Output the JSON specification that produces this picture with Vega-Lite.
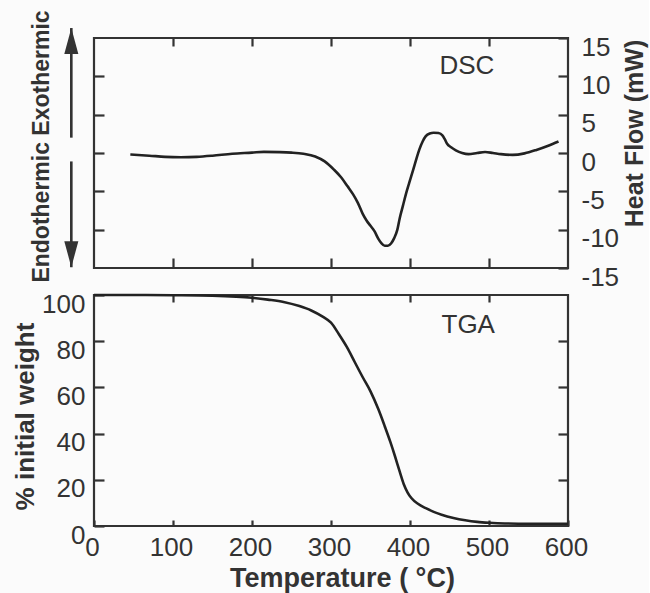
{
  "$schema": "https://vega.github.io/schema/vega-lite/v6.json",
  "background": "#fbfbfb",
  "padding": {"left": 10, "top": 8, "right": 0, "bottom": 0},
  "config": {
    "view": {"stroke": "#333333", "strokeWidth": 2.2},
    "font": "Liberation Sans",
    "axis": {
      "grid": false,
      "domain": false,
      "tickColor": "#333333",
      "tickWidth": 2.2,
      "labelFont": "Liberation Sans",
      "labelFontSize": 26,
      "labelColor": "#333333",
      "titleFont": "Liberation Sans",
      "titleFontSize": 26,
      "titleFontWeight": "bold",
      "titleColor": "#333333",
      "labelFlush": false,
      "labelOverlap": false
    }
  },
  "datasets": {
    "dsc": [
      {"t": 46, "hf": -0.2}, {"t": 70, "hf": -0.35}, {"t": 90, "hf": -0.5}, {"t": 110, "hf": -0.55},
      {"t": 130, "hf": -0.5}, {"t": 150, "hf": -0.35}, {"t": 175, "hf": -0.1}, {"t": 200, "hf": 0.05},
      {"t": 215, "hf": 0.15}, {"t": 235, "hf": 0.12}, {"t": 250, "hf": 0.05}, {"t": 265, "hf": -0.1},
      {"t": 280, "hf": -0.45}, {"t": 292, "hf": -1.1}, {"t": 304, "hf": -2.2}, {"t": 313, "hf": -3.2},
      {"t": 321, "hf": -4.35}, {"t": 328, "hf": -5.4}, {"t": 334, "hf": -6.5}, {"t": 340, "hf": -7.9},
      {"t": 345, "hf": -8.8}, {"t": 350, "hf": -9.5}, {"t": 355, "hf": -10.2}, {"t": 360, "hf": -11.2},
      {"t": 364, "hf": -11.8}, {"t": 368, "hf": -12.1}, {"t": 372, "hf": -12.1}, {"t": 376, "hf": -11.8},
      {"t": 380, "hf": -11.1}, {"t": 384, "hf": -10.0}, {"t": 387, "hf": -8.5}, {"t": 391, "hf": -6.9},
      {"t": 395, "hf": -5.3}, {"t": 399, "hf": -3.9}, {"t": 404, "hf": -2.2}, {"t": 408, "hf": -0.8},
      {"t": 412, "hf": 0.5}, {"t": 416, "hf": 1.5}, {"t": 420, "hf": 2.2}, {"t": 425, "hf": 2.55},
      {"t": 430, "hf": 2.65}, {"t": 436, "hf": 2.6}, {"t": 441, "hf": 2.3}, {"t": 444, "hf": 1.8},
      {"t": 447, "hf": 1.2}, {"t": 452, "hf": 0.75}, {"t": 458, "hf": 0.35}, {"t": 466, "hf": 0.0},
      {"t": 474, "hf": -0.15}, {"t": 485, "hf": 0.0}, {"t": 495, "hf": 0.13}, {"t": 505, "hf": 0.0},
      {"t": 515, "hf": -0.15}, {"t": 530, "hf": -0.25}, {"t": 545, "hf": -0.05}, {"t": 560, "hf": 0.4},
      {"t": 575, "hf": 0.95}, {"t": 588, "hf": 1.5}
    ],
    "tga": [
      {"t": 0, "w": 100}, {"t": 50, "w": 100}, {"t": 100, "w": 99.9}, {"t": 150, "w": 99.7},
      {"t": 180, "w": 99.3}, {"t": 200, "w": 98.8}, {"t": 220, "w": 98.0}, {"t": 240, "w": 97.0},
      {"t": 260, "w": 95.2}, {"t": 275, "w": 93.3}, {"t": 290, "w": 90.5}, {"t": 300, "w": 88.0},
      {"t": 310, "w": 83.0}, {"t": 320, "w": 77.5}, {"t": 330, "w": 71.0}, {"t": 340, "w": 64.5},
      {"t": 350, "w": 58.3}, {"t": 360, "w": 50.5}, {"t": 368, "w": 43.2}, {"t": 375, "w": 36.5},
      {"t": 381, "w": 30.2}, {"t": 387, "w": 23.5}, {"t": 392, "w": 18.2}, {"t": 397, "w": 14.5},
      {"t": 402, "w": 12.0}, {"t": 410, "w": 9.6}, {"t": 420, "w": 7.7}, {"t": 430, "w": 6.1},
      {"t": 440, "w": 4.9}, {"t": 455, "w": 3.5}, {"t": 470, "w": 2.5}, {"t": 485, "w": 1.8},
      {"t": 500, "w": 1.4}, {"t": 520, "w": 1.1}, {"t": 550, "w": 1.0}, {"t": 600, "w": 1.0}
    ],
    "dscLabel": [{"t": 472, "hf": 11.35, "label": "DSC"}],
    "tgaLabel": [{"t": 473.7, "w": 87.0, "label": "TGA"}],
    "arrows": [
      {"t": -28.7, "y1": 2.0, "y2": 16.3, "dir": "up"},
      {"t": -28.7, "y1": -1.1, "y2": -14.9, "dir": "down"}
    ]
  },
  "spacing": 27,
  "bounds": "flush",
  "vconcat": [
    {
      "width": 474,
      "height": 230,
      "layer": [
        {
          "data": {"name": "dsc"},
          "mark": {"type": "line", "color": "#222222", "strokeWidth": 2.6, "interpolate": "monotone"},
          "encoding": {
            "x": {"field": "t", "type": "quantitative", "scale": {"domain": [0, 600]},
              "axis": {"orient": "bottom", "values": [100, 200, 300, 400, 500], "tickSize": -10, "labels": false, "title": null}},
            "y": {"field": "hf", "type": "quantitative", "scale": {"domain": [-15, 15]},
              "axis": {"orient": "left", "values": [-10, -5, 0, 5, 10], "tickSize": -10, "labels": false,
                "title": "Endothermic Exothermic", "titleFontSize": 23, "titleAngle": 270,
                "titleX": -46, "titleY": 108, "titleBaseline": "alphabetic", "titleAlign": "center"}}
          }
        },
        {
          "data": {"name": "dscLabel"},
          "mark": {"type": "text", "font": "Liberation Sans", "fontSize": 26, "color": "#333333", "align": "center", "baseline": "middle"},
          "encoding": {
            "x": {"field": "t", "type": "quantitative", "scale": {"domain": [0, 600]},
              "axis": {"orient": "top", "values": [100, 200, 300, 400, 500], "tickSize": -8, "labels": false, "title": null}},
            "y": {"field": "hf", "type": "quantitative", "scale": {"domain": [-15, 15]},
              "axis": {"orient": "right", "values": [-15, -10, -5, 0, 5, 10, 15], "tickSize": -10,
                "labelPadding": 23, "labelOffset": 9, "labelAlign": "left",
                "labelExpr": "replace(datum.label, '−', '-')",
                "title": "Heat Flow (mW)", "titleFontSize": 25, "titleAngle": 270, "titleX": 74, "titleY": 95,
                "titleBaseline": "alphabetic", "titleAlign": "center"}},
            "text": {"field": "label"}
          }
        },
        {
          "data": {"name": "arrows"},
          "mark": {"type": "rule", "color": "#333333", "strokeWidth": 2.6},
          "encoding": {
            "x": {"field": "t", "type": "quantitative", "scale": {"domain": [0, 600]}, "axis": null},
            "y": {"field": "y1", "type": "quantitative", "scale": {"domain": [-15, 15]}, "axis": null},
            "y2": {"field": "y2"}
          }
        },
        {
          "data": {"name": "arrows"},
          "mark": {"type": "point", "filled": true, "opacity": 1, "color": "#333333", "strokeWidth": 0},
          "encoding": {
            "x": {"field": "t", "type": "quantitative", "scale": {"domain": [0, 600]}, "axis": null},
            "y": {"field": "y2", "type": "quantitative", "scale": {"domain": [-15, 15]}, "axis": null},
            "shape": {"field": "dir", "type": "nominal",
              "scale": {"domain": ["up", "down"], "range": ["M0,0L0.54,2L-0.54,2Z", "M0,0L0.54,-2L-0.54,-2Z"]},
              "legend": null},
            "size": {"value": 676}
          }
        }
      ],
      "resolve": {"axis": {"x": "independent", "y": "independent"}}
    },
    {
      "width": 474,
      "height": 231,
      "layer": [
        {
          "data": {"name": "tga"},
          "mark": {"type": "line", "color": "#222222", "strokeWidth": 2.6, "interpolate": "monotone"},
          "encoding": {
            "x": {"field": "t", "type": "quantitative", "scale": {"domain": [0, 600]},
              "axis": {"orient": "bottom", "values": [0, 100, 200, 300, 400, 500, 600], "tickSize": -6,
                "labelPadding": 14, "labelOffset": -2,
                "title": "Temperature ( °C)", "titleFontSize": 27, "titleX": 248, "titleY": 60,
                "titleBaseline": "alphabetic", "titleAlign": "center"}},
            "y": {"field": "w", "type": "quantitative", "scale": {"domain": [0, 100]},
              "axis": {"orient": "left", "values": [0, 20, 40, 60, 80, 100], "tickSize": -10,
                "labelPadding": 19, "labelOffset": 9,
                "title": "% initial weight", "titleAngle": 270, "titleX": -61, "titleY": 121,
                "titleBaseline": "alphabetic", "titleAlign": "center"}}
          }
        },
        {
          "data": {"name": "tgaLabel"},
          "mark": {"type": "text", "font": "Liberation Sans", "fontSize": 26, "color": "#333333", "align": "center", "baseline": "middle"},
          "encoding": {
            "x": {"field": "t", "type": "quantitative", "scale": {"domain": [0, 600]},
              "axis": {"orient": "top", "values": [100, 200, 300, 400, 500], "tickSize": -7, "labels": false, "title": null}},
            "y": {"field": "w", "type": "quantitative", "scale": {"domain": [0, 100]},
              "axis": {"orient": "right", "values": [20, 40, 60, 80], "tickSize": -10, "labels": false, "title": null}},
            "text": {"field": "label"}
          }
        }
      ],
      "resolve": {"axis": {"x": "independent", "y": "independent"}}
    }
  ]
}
